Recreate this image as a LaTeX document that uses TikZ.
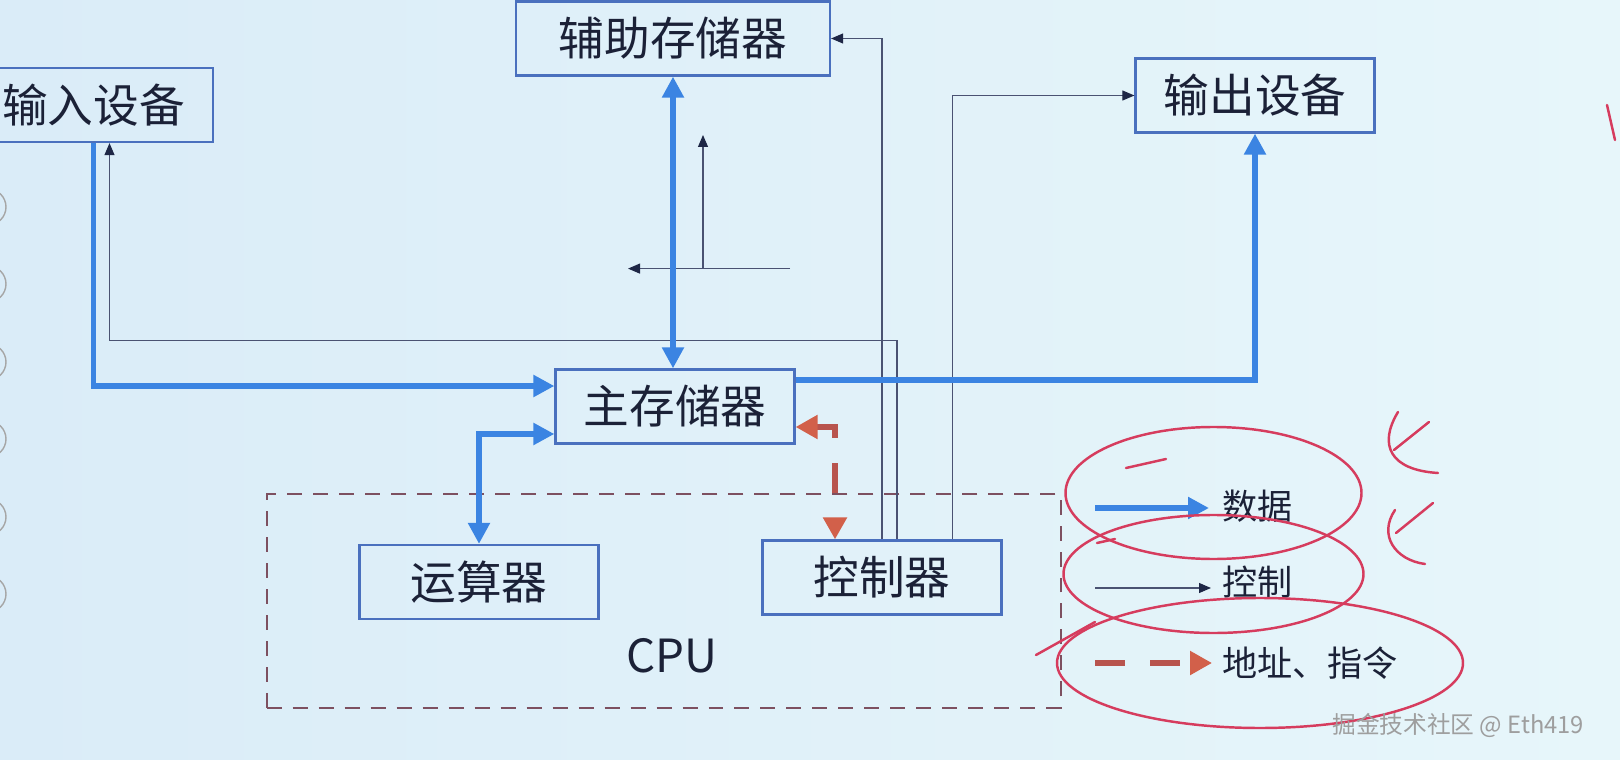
\documentclass[tikz,border=0pt]{standalone}
\usepackage{fontspec}
\setmainfont{Noto Sans CJK SC}
\usepackage{xcolor}
\definecolor{slideBg}{HTML}{E7F6FA}
\definecolor{slideBgLeft}{HTML}{DAECF8}
\definecolor{unitBlue}{HTML}{4A70BE}
\definecolor{dataBlue}{HTML}{3B84E2}
\definecolor{ctrlNavy}{HTML}{4A5272}
\definecolor{ctrlHead}{HTML}{1E2746}
\definecolor{addrRed}{HTML}{B8544E}
\definecolor{addrHead}{HTML}{D2604A}
\definecolor{cpuBrown}{HTML}{7D5060}
\definecolor{inkText}{HTML}{1B2137}
\definecolor{penRed}{HTML}{D63C5E}
\usepackage{tikz}
\usetikzlibrary{arrows.meta}

\begin{document}
\begin{tikzpicture}[
    x=0.02cm, y=-0.02cm,
    unit/.style={
        draw=unitBlue, line width=1.3pt, text=inkText,
        minimum width=4.78cm, minimum height=1.48cm, inner sep=0pt,
        font=\fontsize{26}{30}\selectfont
    },
    cpuframe/.style={
        draw=cpuBrown, line width=1.1pt, dash pattern=on 0.3cm off 0.22cm,
        minimum width=15.89cm, minimum height=4.28cm, inner sep=0pt
    },
    cpulbl/.style={text=inkText, font=\fontsize{26}{30}\selectfont},
    legend/.style={text=inkText, inner sep=0pt, anchor=west,
        font=\fontsize{20}{24}\selectfont},
    % line kinds: data, control, address/instruction
    data/.style={draw=dataBlue, line width=3.3pt,
        >={Triangle[length=0.42cm, width=0.42cm]}},
    ctrl/.style={draw=ctrlNavy, line width=0.6pt,
        >={Triangle[length=0.24cm, width=0.2cm, color=ctrlHead]}},
    addr/.style={draw=addrRed, line width=3pt, dash pattern=on 0.6cm off 0.5cm,
        >={Triangle[length=0.44cm, width=0.46cm, color=addrHead]}},
    pen/.style={draw=penRed, line width=1.4pt, line cap=round},
    wmark/.style={text=black!38, anchor=west, inner sep=0pt,
        font=\fontsize{13.5}{16}\selectfont},
]
\useasboundingbox (0,0) rectangle (1620,760);
\fill[left color=slideBgLeft, right color=slideBg] (0,0) rectangle (1620,760);
\foreach \cy in {207,284,362,439,517,594}
    \draw[gray!70, line width=0.8pt] (-12,\cy) circle [radius=18];

%% =================================================================
%% Units
%% =================================================================
\node[unit] (in) at (93.5,105) {输入设备};
\node[unit, minimum width=6.28cm] (aux) at (673,38.5) {辅助存储器};
\node[unit] (out) at (1255,95.5) {输出设备};
\node[unit] (mm) at (675,406.5) {主存储器};
\node[cpuframe] (cpu) at (663.75,601) {};
\node[unit] (alu) at (479,582) {运算器};
\node[unit] (cu) at (882,577.5) {控制器};
\node[cpulbl] (cpuLbl) at (671.5,656) {CPU};

%% =================================================================
%% Control lines (thin)
%% =================================================================
\draw[ctrl, ->] (cu.north) |- (aux.east);
\draw[ctrl, ->] ([xshift=0.3cm]cu.north) -- ++(0,-199) -| ([xshift=0.32cm]in.south);
\draw[ctrl, ->] ([xshift=1.41cm]cu.north) |- (out.west);

% loose control arrows between the memories
\coordinate (hFrom) at (790,268.6);
\coordinate (hTo) at (628,268.6);
\coordinate (vFrom) at (703,268.6);
\coordinate (vTo) at (703,135);
\draw[ctrl, ->] (hFrom) -- (hTo);
\draw[ctrl, ->] (vFrom) -- (vTo);

%% =================================================================
%% Data lines (thick)
%% =================================================================
\draw[data, ->] (in.south) |- ([yshift=0.41cm]mm.west);
\draw[data, <->] (aux.south) -- (aux.south |- mm.north);
\draw[data, ->] ([yshift=0.53cm]mm.east) -| (out.south);
\draw[data, <->] ([yshift=-0.55cm]mm.west) -| (alu.north);

%% =================================================================
%% Address / instruction line (dashed)
%% =================================================================
\draw[addr, <->] ([yshift=-0.41cm]mm.east) -| ([xshift=-0.94cm]cu.north);

%% =================================================================
%% Legend
%% =================================================================
\node[legend] (lgData) at (1222,506) {数据};
\node[legend] (lgCtrl) at (1222,582) {控制};
\node[legend] (lgAddr) at (1222,663) {地址、指令};
\draw[data, ->] ([xshift=-2.54cm, yshift=-0.04cm]lgData.west) -- ([xshift=-0.26cm, yshift=-0.04cm]lgData.west);
\draw[ctrl, ->] ([xshift=-2.54cm, yshift=-0.12cm]lgCtrl.west) -- ([xshift=-0.22cm, yshift=-0.12cm]lgCtrl.west);
\draw[addr, ->] ([xshift=-2.54cm]lgAddr.west) -- ([xshift=-0.2cm]lgAddr.west);

%% hand-drawn marks on the slide
\draw[pen] (1213.5,493) ellipse [x radius=148, y radius=66];
\draw[pen] (1126,468) -- (1166,459);
\draw[pen] (1213.5,574) ellipse [x radius=150, y radius=59];
\draw[pen] (1097,543) -- (1115,539);
\draw[pen] (1260,663) ellipse [x radius=203, y radius=65];
\draw[pen] (1036,655) -- (1095,622);
\draw[pen] (1398,412) .. controls (1378,445) and (1390,470) .. (1438,473);
\draw[pen] (1429,422) -- (1394,450);
\draw[pen] (1395,510) .. controls (1378,535) and (1395,560) .. (1425,564);
\draw[pen] (1433,503) -- (1396,533);
\draw[pen] (1607,105) -- (1615,140);

\node[wmark] (wm) at (1332,725) {掘金技术社区 @ Eth419};
\end{tikzpicture}
\end{document}
